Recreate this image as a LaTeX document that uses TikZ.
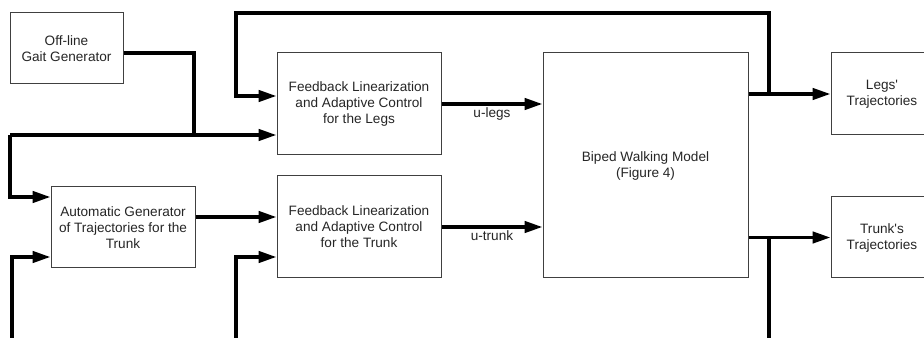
\documentclass[tikz,border=0pt]{standalone}
\usepackage{fontspec}
\setmainfont{Liberation Sans}
\usepackage{tikz}
\usetikzlibrary{calc, arrows.meta}

\tikzset{
	block/.style = {draw = black!75, line width = 0.75pt, align = center, inner sep = 0pt, text = black!85, font = \fontsize{10.2}{12}\selectfont},
	wire/.style = {line width = 2.6pt, -{Triangle[length = 13.5pt, width = 8.5pt]}},
	bus/.style = {line width = 2.6pt, arrows = -},
}

\begin{document}
\begin{tikzpicture}[x = 0.75pt, y = -0.75pt]
						\clip (0,0) rectangle (924,338);
						\fill [white] (0,0) rectangle (924,338);
						\begin{scope}
							\node [block, minimum width = 84.75pt, minimum height = 53.25pt] (gait) at (66.5,48.5) {Off-line\\Gait Generator};
							\node [block, minimum width = 108pt, minimum height = 60.75pt] (auto) at (123,227.5) {Automatic Generator\\of Trajectories for the\\Trunk};
							\node [block, minimum width = 123pt, minimum height = 76.5pt] (fblegs) at (359,104) {Feedback Linearization\\and Adaptive Control\\for the Legs};
							\node [block, minimum width = 123pt, minimum height = 76.5pt] (fbtrunk) at (359,227) {Feedback Linearization\\and Adaptive Control\\for the Trunk};
							\node [block, minimum width = 153.75pt, minimum height = 168.75pt] (biped) at (645.5,165.5) {Biped Walking Model\\(Figure 4)};
							\node [block, minimum width = 76.5pt, minimum height = 61.5pt] (legstraj) at (882,94) {Legs\textquotesingle\\Trajectories};
							\node [block, minimum width = 76.5pt, minimum height = 60.75pt] (trunktraj) at (882,237.5) {Trunk\textquotesingle s\\Trajectories};
						\end{scope}
						\begin{scope}
							\coordinate (rowfb) at (0,96);
							\coordinate (rowauto) at (0,197);
							\coordinate (rowin) at (0,217);
							\coordinate (rowbot) at (0,257);
							\coordinate (split) at (194,135);
							\coordinate (left) at (10,135);
							\coordinate (topleft) at (236,13);
							\coordinate (topright) at (769,13);
							\coordinate (legsplit) at (769,94);
							\coordinate (trunksplit) at (769,237.5);
							\coordinate (botleft) at (12,340);
							\coordinate (botmid) at (236,340);
							\coordinate (botright) at (769,340);
						\end{scope}
						\begin{scope}[wire]
							\draw [bus] ([yshift = -3.4pt]gait.east) -| (split);
							\draw (left) -- (left -| fblegs.west);
							\draw (left) |- (auto.west |- rowauto);
							\draw (botleft) |- (auto.west |- rowbot);
							\draw (auto.east |- rowin) -- (fbtrunk.west |- rowin);
							\draw (legsplit) -- (topright) -- (topleft) |- (fblegs.west |- rowfb);
							\draw (botmid) |- (fbtrunk.west |- rowbot);
							\draw (fblegs.east) -- (fblegs.east -| biped.west) node [midway, below, inner sep = 1.5pt, font = \fontsize{10.2}{12}\selectfont, text = black!85] {u-legs};
							\draw (fbtrunk.east) -- (fbtrunk.east -| biped.west) node [midway, below, inner sep = 1.5pt, font = \fontsize{10.2}{12}\selectfont, text = black!85] {u-trunk};
							\draw (biped.east |- legstraj.west) -- (legstraj.west);
							\draw (biped.east |- trunktraj.west) -- (trunktraj.west);
							\draw [bus] (trunksplit) -- (botright);
						\end{scope}
					\end{tikzpicture}
\end{document}
